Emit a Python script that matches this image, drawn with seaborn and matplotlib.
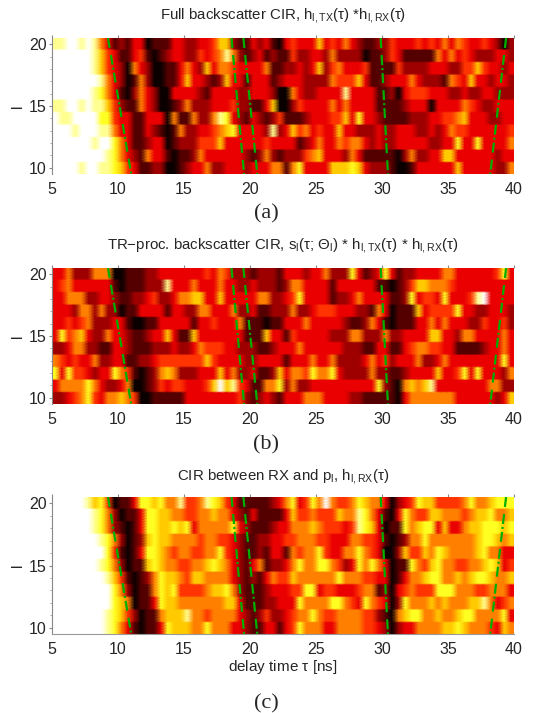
import numpy as np
import pandas as pd
import matplotlib
matplotlib.use("Agg")
import matplotlib.pyplot as plt
import seaborn as sns

sns.set_style("ticks")
plt.rcParams["font.family"] = ["Liberation Sans", "DejaVu Sans"]
plt.rcParams["mathtext.fontset"] = "custom"
plt.rcParams["mathtext.rm"] = "Liberation Sans"
plt.rcParams["mathtext.it"] = "Liberation Sans"
plt.rcParams["mathtext.bf"] = "Liberation Sans:bold"

# antenna index l, top row first
antenna = [20, 19, 18, 17, 16, 15, 14, 13, 12, 11, 10]
# one digit per delay bin, 0 = black ... 9 = white, 70 bins of 0.5 ns from 5 to 40 ns
full_cir = [
    "88998 98531 21330 11133 22334 66211 32310 34333 63435 32112 24333 43435 35433 43202",
    "99999 98643 11341 01233 22434 58521 23121 14223 32522 22011 24311 11153 53432 22332",
    "99999 98643 20532 00113 53263 55433 33511 22323 62453 33411 11422 22333 22446 43323",
    "99999 99853 20152 00113 63321 26331 33312 33322 22544 46311 23335 32221 54363 32332",
    "99999 98753 10253 20033 33213 33322 33320 05322 33338 33331 12034 44333 22322 33222",
    "88998 98864 21153 20012 52223 33422 11360 02433 33535 33331 11123 33033 33543 22333",
    "98899 99774 33113 33051 15225 87321 32124 11123 33446 37332 11112 22334 45633 32233",
    "99989 99885 33113 21015 22334 56733 33282 36453 43363 32223 22333 22323 54433 33334",
    "99999 98997 53112 33012 22444 63333 33433 33123 53354 55323 22333 33223 37337 33335",
    "99999 99987 53215 33101 12533 33332 12521 22245 63332 53111 11025 22336 63333 33233",
    "99998 99887 64311 22001 23352 23332 33355 15733 33666 76322 21001 33333 36333 33225",
]
tr_cir = [
    "33522 25550 01112 23333 33343 54222 12221 33323 35222 73123 73122 33335 53333 33473",
    "34533 33331 01112 22833 35333 53322 32221 25533 33133 33331 10124 66555 43333 33333",
    "33555 22332 11223 42235 56633 63333 35522 34733 33122 35333 31127 34437 33348 93333",
    "33325 52522 01133 33133 22553 33522 31122 25223 44433 32215 30111 63444 47332 23332",
    "33434 52223 31001 13333 31334 33351 11011 33353 33332 11253 10111 33535 33322 43342",
    "37456 32253 32112 33631 16333 33331 11633 14333 33222 55222 52233 33663 32553 33353",
    "22355 22113 32111 22232 23544 43322 21123 33533 33332 22113 31134 55443 31111 23353",
    "54343 35223 31122 34444 44464 33332 23333 13335 33522 22353 42333 52235 33333 33373",
    "73744 32337 54101 25652 22333 63522 31126 35547 55732 22252 21123 33363 34737 33325",
    "35555 75322 35001 24344 33346 96843 11557 25223 33333 33337 21056 56833 33333 35522",
    "22345 74355 65400 11111 33333 33342 12321 33355 53333 22111 11035 55555 53333 33236",
]
rx_cir = [
    "99999 86740 11377 67558 44587 64311 11123 57347 59544 57655 30234 76644 44575 56777",
    "99999 98752 01137 76655 44556 55321 31111 36445 44465 58753 10375 44665 55456 67556",
    "99999 98752 10137 76676 73555 55732 11123 35556 54443 48763 01175 67736 33566 77767",
    "99999 99875 20126 76655 55455 44321 12233 44555 44333 55443 10125 57555 55556 77656",
    "99999 99974 10137 76545 54455 74321 12133 15455 74335 57543 00264 46576 55556 75533",
    "99999 99875 20116 76554 45567 65321 35122 35755 77542 37575 30117 54675 54455 67634",
    "99999 99986 41012 57665 46655 55321 21354 46555 55575 55443 30135 56775 56567 76556",
    "99999 99997 52011 57674 44456 67521 11233 34477 34433 34551 20345 44477 75554 45553",
    "99999 99997 65011 37665 55555 56631 11223 33755 55775 43754 30275 55656 55566 85345",
    "99999 99987 64201 15666 85545 55532 12422 34557 54455 55442 10567 75565 56775 55573",
    "99999 99987 53101 13766 65575 55332 11331 34755 53355 55443 20233 55556 67655 54365",
]

# green path tracks, delay in ns at the top and bottom edge of the map
track_top = [9.24, 18.6, 19.5, 29.9, 39.4]
track_bottom = [11.0, 19.55, 20.55, 30.45, 38.2]

titles = [
    r"Full backscatter CIR, h$_{\mathrm{l,TX}}$($\tau$) *h$_{\mathrm{l,RX}}$($\tau$)",
    r"TR$-$proc. backscatter CIR, s$_{\mathrm{l}}$($\tau$; $\Theta_{\mathrm{l}}$) * h$_{\mathrm{l,TX}}$($\tau$) * h$_{\mathrm{l,RX}}$($\tau$)",
    r"CIR between RX and p$_{\mathrm{l}}$, h$_{\mathrm{l,RX}}$($\tau$)",
]
captions = ["(a)", "(b)", "(c)"]
panels = [full_cir, tr_cir, rx_cir]

W, H = 533, 713
tops = [38, 268, 497]
bottoms = [174, 404, 634]
title_y = [19, 249, 480]
caption_y = [214, 445, 704]
n_rep = 8  # mesh rows per antenna, keeps the row edges sharp under gouraud shading

fig = plt.figure(figsize=(W / 100, H / 100), dpi=100)

for k, rows in enumerate(panels):
    ax = fig.add_axes([52 / W, 1 - bottoms[k] / H, 462 / W, (bottoms[k] - tops[k]) / H])
    values = [[int(c) for c in r.replace(" ", "")] for r in rows]
    n_bins = len(values[0])
    # gouraud puts values on vertices, so repeat the edge bins to reach the axes limits
    mesh = np.pad(np.repeat(values, n_rep, axis=0), ((0, 0), (1, 1)), mode="edge")
    df = pd.DataFrame(mesh)
    sns.heatmap(df, ax=ax, cmap="hot", vmin=0, vmax=9, cbar=False,
                xticklabels=False, yticklabels=False, shading="gouraud")
    n_y = df.shape[0] - 1
    ax.set_xlim(0.5, n_bins + 0.5)
    ax.set_ylim(n_y, 0)

    def xpos(t):
        return (t - 5) / 0.5 + 0.5

    def ypos(i):
        return (i + 0.5) / len(antenna) * n_y

    for t0, t1 in zip(track_top, track_bottom):
        ax.plot([xpos(t0), xpos(t1)], [0, n_y], color="#00b000", lw=1.6,
                ls=(0, (4.5, 3.2, 4.5, 1.35, 0.9, 1.35)))

    ax.set_xticks([xpos(t) for t in range(5, 41, 5)])
    ax.set_xticklabels([str(t) for t in range(5, 41, 5)], rotation=0)
    ax.set_yticks([ypos(0), ypos(5), ypos(10)])
    ax.set_yticklabels(["20", "15", "10"], rotation=0)
    ax.set_yticks([ypos(i) for i in range(len(antenna))], minor=True)
    ax.tick_params(axis="both", which="major", labelsize=11.5, color="#888888", length=2)
    ax.tick_params(axis="y", which="major", pad=2)
    ax.tick_params(axis="y", which="minor", color="#888888", length=1.5, width=0.5)
    ax.tick_params(axis="x", bottom=False, top=True, pad=4)
    ax.set_ylabel("l", fontsize=11, rotation=90, labelpad=3)
    ax.set_xlabel("")

    for side in ["top", "right"]:
        ax.spines[side].set_visible(False)
    ax.spines["left"].set_visible(True)
    ax.spines["left"].set_color("#888888")
    ax.spines["left"].set_linewidth(0.8)
    ax.spines["bottom"].set_visible(k == 2)
    ax.spines["bottom"].set_color("#999999")

    fig.text(283 / W, 1 - title_y[k] / H, titles[k], ha="center", va="baseline", fontsize=10.8)
    fig.text(266 / W, 1 - caption_y[k] / H, captions[k], ha="center", va="center",
             fontsize=16, family="Liberation Serif")

fig.text(283 / W, 1 - 667 / H, r"delay time $\tau$ [ns]", ha="center", va="center", fontsize=11)

fig.savefig("out.png", dpi=100)
